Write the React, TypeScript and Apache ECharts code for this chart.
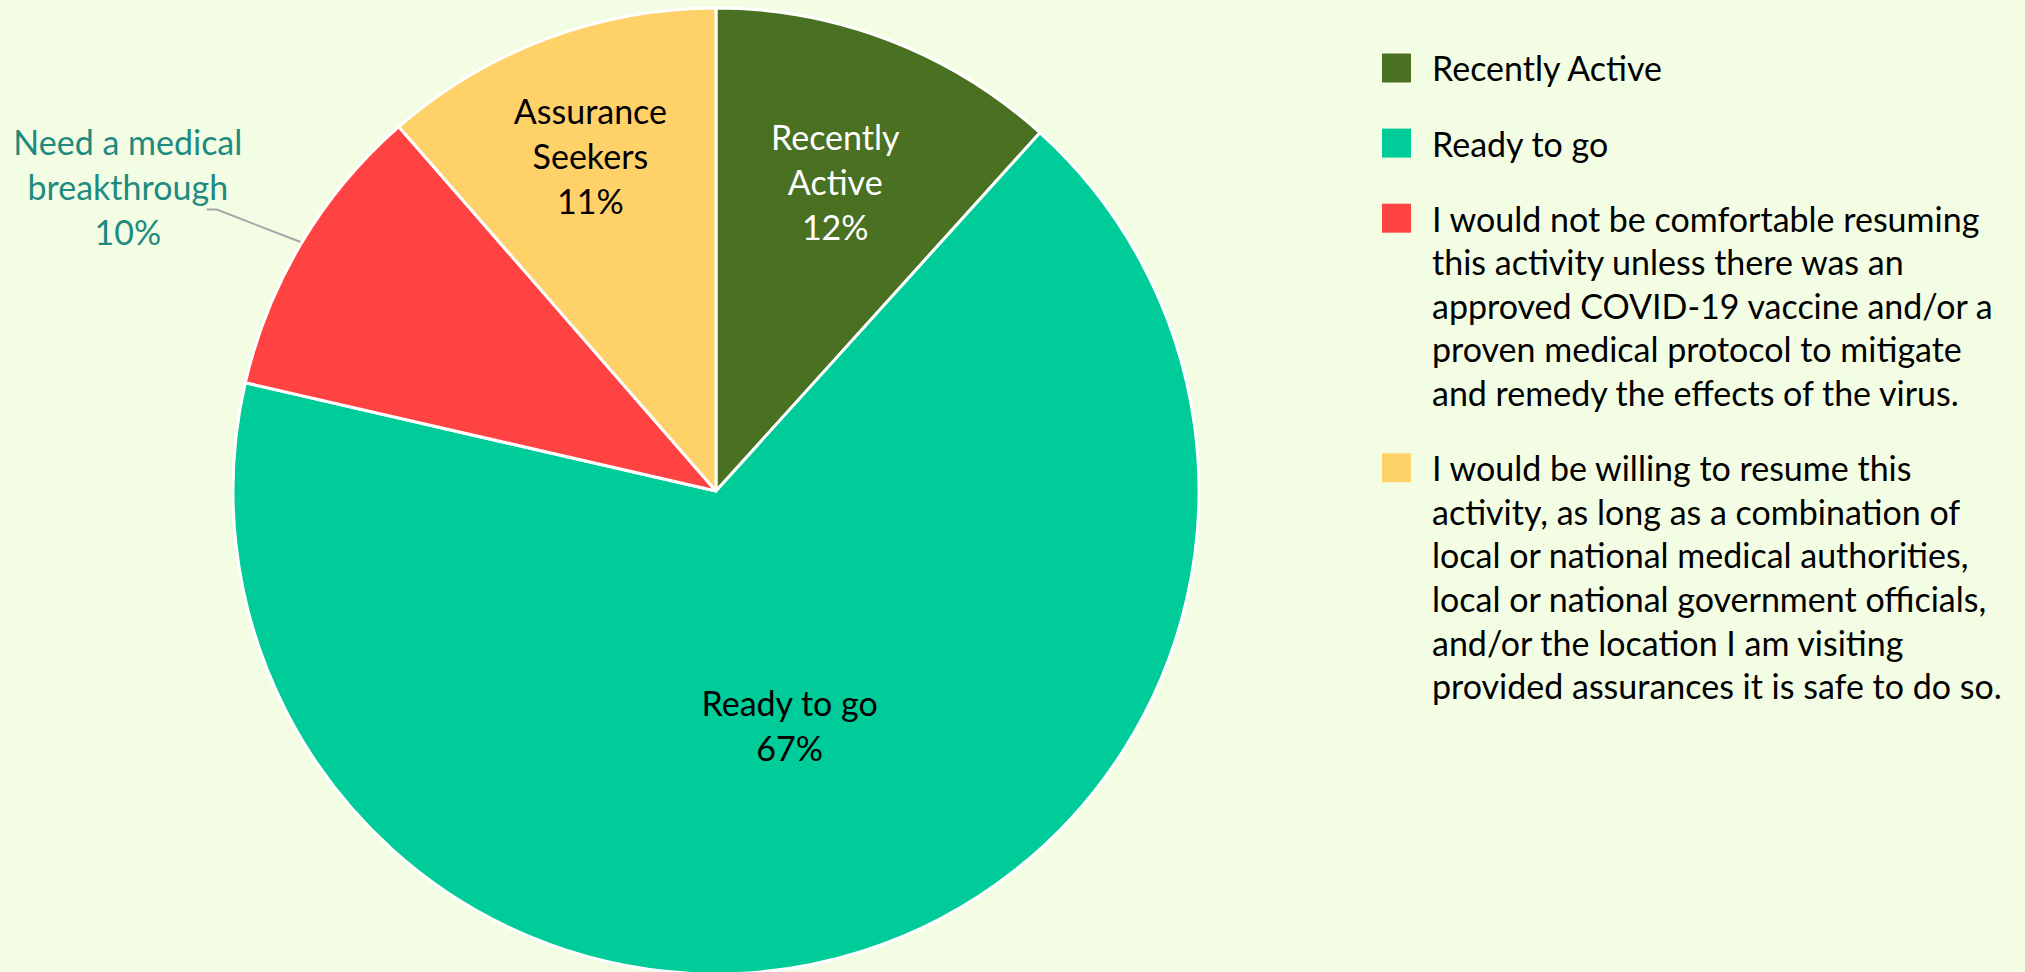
import React, { useEffect, useRef } from "react";
import * as echarts from "echarts";

const sliceNames = ["Recently Active", "Ready to go", "Need a medical breakthrough", "Assurance Seekers"];
const sliceLabels = ["Recently\nActive", "Ready to go", "Need a medical\nbreakthrough", "Assurance\nSeekers"];
const sliceValues = [11.7, 66.9, 10.0, 11.4];
const sliceColors = ["#4A7021", "#00CC99", "#FF4343", "#FFD169"];
const legendTexts = [
  "Recently Active",
  "Ready to go",
  "I would not be comfortable resuming\nthis activity unless there was an\napproved COVID-19 vaccine and/or a\nproven medical protocol to mitigate\nand remedy the effects of the virus.",
  "I would be willing to resume this\nactivity, as long as a combination of\nlocal or national medical authorities,\nlocal or national government officials,\nand/or the location I am visiting\nprovided assurances it is safe to do so.",
];

const FONT = "Lato";

export default function App() {
  const ref = useRef<HTMLDivElement>(null);
  useEffect(() => {
    document.body.style.margin = "0";
    const chart = echarts.init(ref.current!, null, { renderer: "svg" });
    const cx = 716;
    const cy = 491;
    const r = 483;
    const total = sliceValues.reduce((a, b) => a + b, 0);
    const mids: number[] = [];
    let cum = 0;
    sliceValues.forEach((v) => {
      mids.push(((cum + v / 2) / total) * Math.PI * 2);
      cum += v;
    });
    const radialFrac = [0.687, 0.508, 1, 0.742];
    const labelColors = ["#FFFFFF", "#000000", "#1F8A80", "#000000"];

    // Legend built from graphic elements
    const lh = 43.6;
    const gap = 31.5;
    const legendGraphics: any[] = [];
    let top = 68 - lh / 2;
    legendTexts.forEach((t, i) => {
      const lines = t.split("\n").length;
      legendGraphics.push({
        type: "rect",
        left: 1382,
        top: top + lh / 2 - 14.5,
        shape: { width: 29, height: 29 },
        style: { fill: sliceColors[i] },
      });
      legendGraphics.push({
        type: "text",
        x: 1432,
        y: top,
        style: {
          text: t,
          fill: "#000000",
          font: `34px ${FONT}`,
          lineHeight: lh,
          textVerticalAlign: "top",
          verticalAlign: "top",
        },
      });
      top += lines * lh + gap;
    });

    chart.setOption({
      animation: false,
      backgroundColor: "#F3FDE4",
      graphic: legendGraphics,
      series: [
        {
          type: "pie",
          center: [cx, cy],
          radius: [0, r],
          startAngle: 90,
          clockwise: true,
          avoidLabelOverlap: false,
          itemStyle: { borderColor: "#FFFFFF", borderWidth: 3 },
          label: {
            show: true,
            position: "inside",
            fontFamily: FONT,
            fontSize: 34,
            lineHeight: 45,
            align: "center",
            formatter: (p: any) => `${sliceLabels[p.dataIndex]}\n${Math.round(p.percent)}%`,
          },
          labelLine: { show: false },
          labelLayout: (params: any) => {
            const i = params.dataIndex;
            const a = mids[i];
            if (i === 2) {
              const p0x = cx + r * Math.sin(a);
              const p0y = cy - r * Math.cos(a);
              const p1x = p0x - 85;
              const p1y = p0y - 33;
              return {
                x: p0x - 174,
                y: p0y - 56,
                align: "center",
                verticalAlign: "middle",
                labelLinePoints: [
                  [p0x, p0y],
                  [p1x, p1y],
                  [p1x - 10, p1y],
                ],
              };
            }
            return {
              x: cx + radialFrac[i] * r * Math.sin(a),
              y: cy - radialFrac[i] * r * Math.cos(a),
              align: "center",
              verticalAlign: "middle",
            };
          },
          data: sliceNames.map((n, i) => ({
            name: n,
            value: sliceValues[i],
            itemStyle: { color: sliceColors[i] },
            label: i === 2 ? { position: "outside", color: labelColors[i] } : { color: labelColors[i] },
            labelLine:
              i === 2
                ? { show: true, length: 20, length2: 10, lineStyle: { color: "#A6A6A6", width: 2 } }
                : { show: false },
          })),
        },
      ],
    });
    return () => chart.dispose();
  }, []);
  return <div ref={ref} style={{ width: 2025, height: 972 }} />;
}
